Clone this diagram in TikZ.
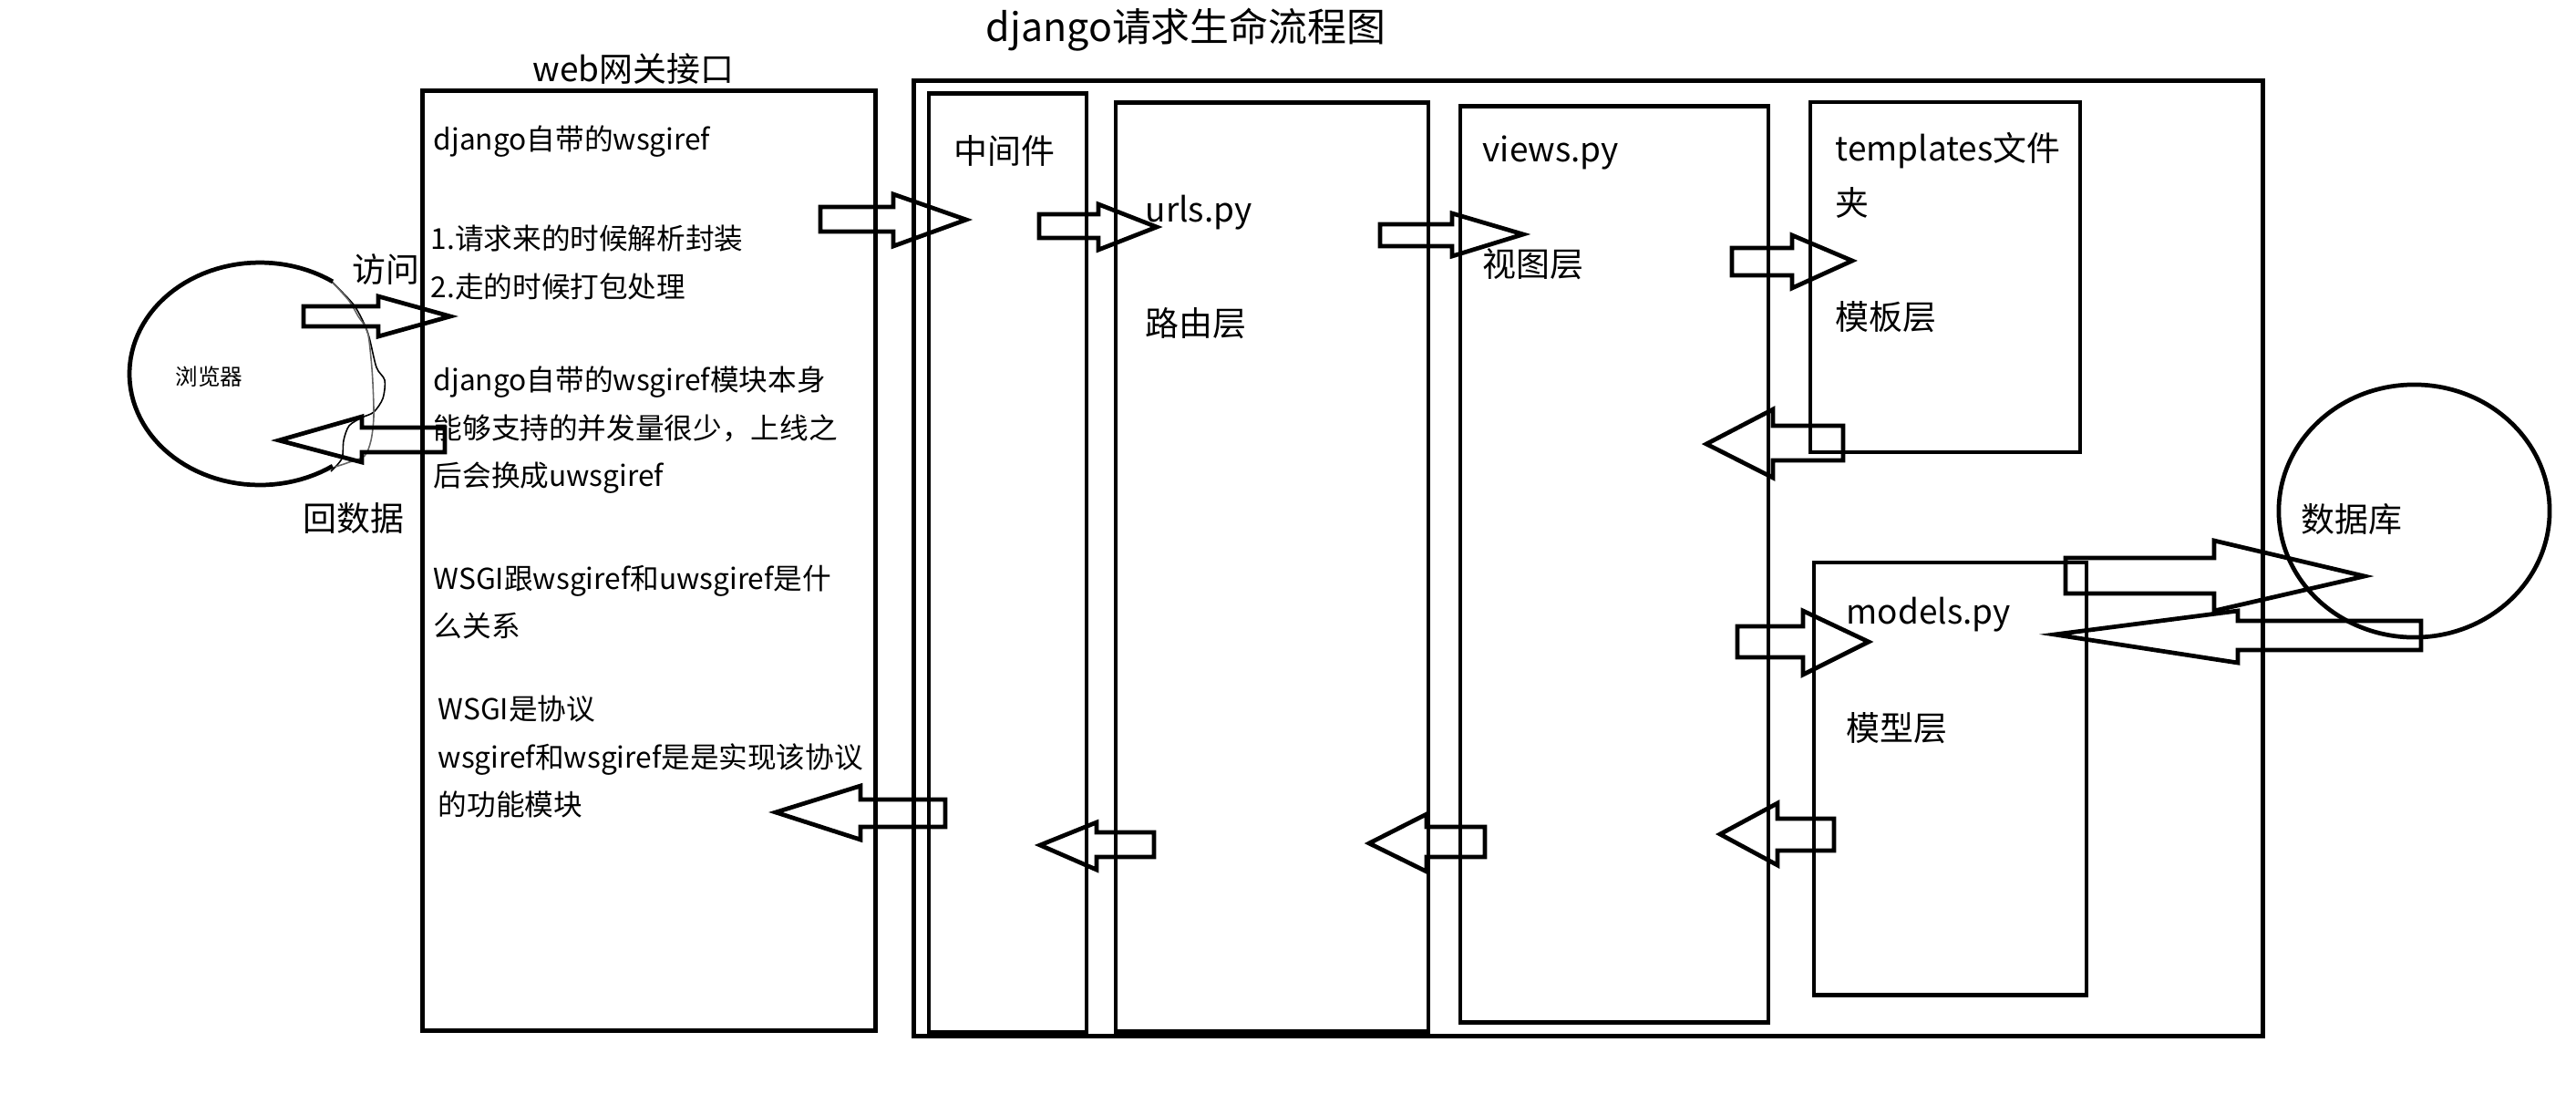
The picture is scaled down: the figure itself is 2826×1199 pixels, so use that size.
\documentclass[tikz,border=0pt]{standalone}
\usepackage{fontspec}
\setmainfont{Noto Sans CJK SC}
\usetikzlibrary{shapes.geometric}
\begin{document}
\begin{tikzpicture}[x=0.01cm,y=-0.01cm,
  box/.style={draw, line width=1.35pt, inner sep=0, outer sep=0, rectangle},
  blk/.style={draw, line width=1.35pt, line join=miter},
  lab/.style={anchor=base west, inner sep=0, font=\fontsize{10.5}{12}\selectfont},
  body/.style={anchor=base west, inner sep=0, font=\fontsize{9}{12}\selectfont},
]
\useasboundingbox[fill=white] (0,0) rectangle (2826,1199);

% title
\node[anchor=base west, inner sep=0, font=\fontsize{12.2}{14}\selectfont] (title) at (1081,45) {django请求生命流程图};

% boxes
\node[box, minimum width=4.96cm, minimum height=10.30cm] (web) at (712,615) {};
\node[box, minimum width=14.79cm, minimum height=10.47cm] (outer) at (1742.5,612.5) {};
\node[box, minimum width=1.73cm, minimum height=10.29cm] (mid) at (1105.5,617.5) {};
\node[box, minimum width=3.43cm, minimum height=10.18cm] (urls) at (1395.5,622) {};
\node[box, minimum width=3.38cm, minimum height=10.04cm] (views) at (1771,619) {};
\node[box, minimum width=2.96cm, minimum height=3.84cm] (tpl) at (2134,304) {};
\node[box, minimum width=2.99cm, minimum height=4.74cm] (models) at (2139.5,854) {};
\node[draw, ellipse, line width=1.35pt, inner sep=0, minimum width=2.97cm, minimum height=2.77cm] (db) at (2648.5,560.5) {};

% browser
\draw[line width=1.35pt] plot[variable=\t, domain=56:304, samples=80] ({285+143*cos(\t)}, {410-122*sin(\t)});
\draw[line width=0.45pt] plot[smooth] coordinates {(363,308) (387,333) (398,352) (405,370) (413,403) (422,417) (420,437) (410,452) (397,458) (383,467) (377,483) (375,503) (363,517)};
\draw[line width=0.45pt, black!60] plot[smooth] coordinates {(365,310) (383,330) (393,347) (403,363) (407,393) (409,420) (410,457) (407,483) (400,500) (383,507) (368,512)};
\node[anchor=base west, inner sep=0, font=\fontsize{7}{8}\selectfont] (browser) at (192,422) {浏览器};

% labels
\node[lab] (webt) at (584,89) {web网关接口};
\node[lab] (visit) at (386,309) {访问};
\node[lab] (back) at (332,582) {回数据};
\node[lab] (midt) at (1046,179) {中间件};
\node[lab] (urlst) at (1256,243) {urls.py};
\node[lab] (routet) at (1256,368) {路由层};
\node[lab] (viewst) at (1626,177) {views.py};
\node[lab] (viewl) at (1626,303) {视图层};
\node[lab] (tplt) at (2013,176) {templates文件};
\node[lab] (tplt2) at (2013,236) {夹};
\node[lab] (tpll) at (2013,361) {模板层};
\node[lab] (modt) at (2025,684) {models.py};
\node[lab] (modl) at (2025,812) {模型层};
\node[lab] (dbt) at (2524,583) {数据库};

% body text in web box
\node[body] (b1) at (475,164) {django自带的wsgiref};
\node[body] (b2) at (472,273) {1.请求来的时候解析封装};
\node[body] (b3) at (472,326) {2.走的时候打包处理};
\node[body] (b4) at (475,428) {django自带的wsgiref模块本身};
\node[body] (b5) at (475,481) {能够支持的并发量很少，上线之};
\node[body] (b6) at (475,533) {后会换成uwsgiref};
\node[body] (b7) at (475,646) {WSGI跟wsgiref和uwsgiref是什};
\node[body] (b8) at (475,698) {么关系};
\node[body] (b9) at (480,789) {WSGI是协议};
\node[body] (b10) at (480,842) {wsgiref和wsgiref是是实现该协议};
\node[body] (b11) at (480,894) {的功能模块};

% block arrows (right-pointing)
\draw[blk] (333,336) -- (415,336) -- (415,325) -- (494,347) -- (415,369) -- (415,358) -- (333,358) -- cycle;
\draw[blk] (900,227) -- (980,227) -- (980,213) -- (1060,241) -- (980,270) -- (980,254) -- (900,254) -- cycle;
\draw[blk] (1140,235) -- (1205,235) -- (1205,224) -- (1269,249) -- (1205,274) -- (1205,261) -- (1140,261) -- cycle;
\draw[blk] (1514,246) -- (1593,246) -- (1593,234) -- (1671,257) -- (1593,281) -- (1593,270) -- (1514,270) -- cycle;
\draw[blk] (1900,272) -- (1966,272) -- (1966,258) -- (2032,286) -- (1966,316) -- (1966,302) -- (1900,302) -- cycle;
\draw[blk] (1906,687) -- (1978,687) -- (1978,670) -- (2050,704) -- (1978,740) -- (1978,721) -- (1906,721) -- cycle;
\draw[blk] (2266,612) -- (2429,612) -- (2429,593) -- (2594,632) -- (2429,670) -- (2429,651) -- (2266,651) -- cycle;

% block arrows (left-pointing)
\draw[blk] (488,469) -- (397,469) -- (397,457) -- (306,483) -- (397,507) -- (397,496) -- (488,496) -- cycle;
\draw[blk] (2022,467) -- (1945,467) -- (1945,449) -- (1872,487) -- (1945,524) -- (1945,505) -- (2022,505) -- cycle;
\draw[blk] (2656,681) -- (2455,681) -- (2455,670) -- (2254,696) -- (2455,727) -- (2455,713) -- (2656,713) -- cycle;
\draw[blk] (2012,898) -- (1950,898) -- (1950,881) -- (1887,915) -- (1950,949) -- (1950,933) -- (2012,933) -- cycle;
\draw[blk] (1629,907) -- (1565,907) -- (1565,893) -- (1502,925) -- (1565,956) -- (1565,940) -- (1629,940) -- cycle;
\draw[blk] (1266,913) -- (1203,913) -- (1203,902) -- (1141,927) -- (1203,954) -- (1203,940) -- (1266,940) -- cycle;
\draw[blk] (1037,877) -- (944,877) -- (944,862) -- (851,891) -- (944,921) -- (944,907) -- (1037,907) -- cycle;
\end{tikzpicture}
\end{document}
